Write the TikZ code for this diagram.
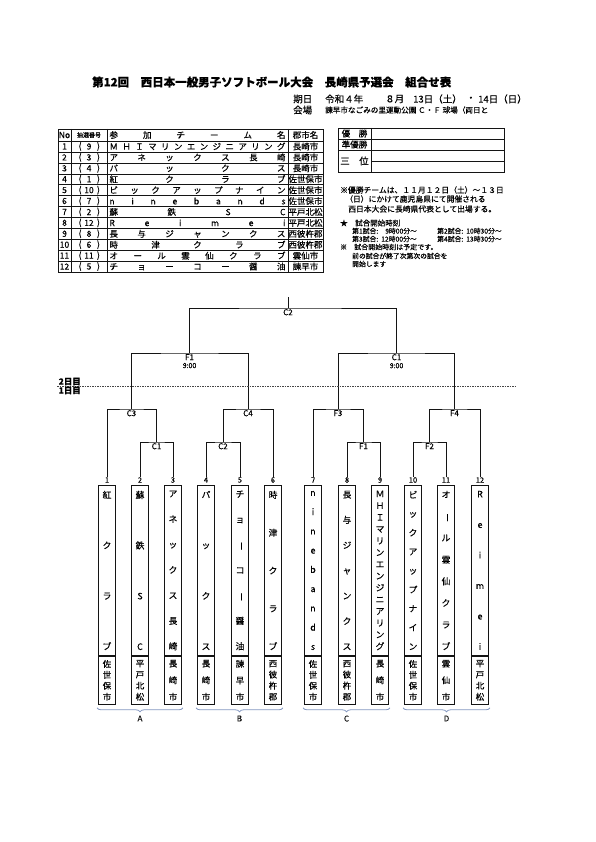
\documentclass[tikz,border=0pt]{standalone}
\usepackage{fontspec}
\setmainfont{Noto Sans CJK JP}[FakeBold=0.35]
\usetikzlibrary{positioning, decorations.pathreplacing}
\definecolor{BrBlack}{RGB}{20,20,20}
\definecolor{DayGrey}{RGB}{70,70,70}
\definecolor{GrpBlue}{RGB}{130,150,192}

% spread the letters of a name over a given width / height
\makeatletter
\def\sp@end{sp@end}
\newcommand\hspreadtext[2]{\edef\sp@list{#2}\hbox to #1{\let\sp@gap\relax\expandafter\sp@hloop\sp@list\sp@end}}
\def\sp@hloop#1{\ifx#1\sp@end\else\sp@gap\let\sp@gap\hfill#1\expandafter\sp@hloop\fi}
\newcommand\vspreadtext[2]{\edef\sp@list{#2}\vbox to #1{\let\sp@gap\relax\expandafter\sp@vloop\sp@list\sp@end}}
\def\sp@vloop#1{\ifx#1\sp@end\else\sp@gap\let\sp@gap\vfill\hbox to 10pt{\hss#1\hss}\expandafter\sp@vloop\fi}
\makeatother
\protected\def\vchoon{\rotatebox[origin=c]{-90}{ー}}

\begin{document}
\begin{tikzpicture}[x=1pt, y=-1pt,
    cell/.style={inner sep=0pt, font=\fontsize{8.5pt}{9pt}\selectfont},
    info/.style={anchor=west, inner sep=0pt, font=\fontsize{9.5pt}{10pt}\selectfont},
    note/.style={anchor=west, inner sep=0pt, font=\fontsize{7.8pt}{9pt}\selectfont},
    small/.style={anchor=west, inner sep=0pt, font=\fontsize{6.8pt}{7pt}\selectfont},
    tline/.style={line width=0.5pt, BrBlack},
    tframe/.style={line width=0.8pt, BrBlack},
    bline/.style={line width=0.8pt, BrBlack},
    mlbl/.style={anchor=north, inner sep=1pt, align=center,
                 font=\fontsize{8pt}{8.5pt}\selectfont},
    num/.style={inner sep=0.5pt, font=\fontsize{7.5pt}{8pt}\selectfont},
    namebox/.style={draw=BrBlack, line width=0.9pt, anchor=north, inner sep=0pt,
                    minimum width=17pt, minimum height=170pt,
                    font=\fontsize{8.8pt}{10pt}\selectfont},
    citybox/.style={draw=BrBlack, line width=0.9pt, inner sep=0pt,
                    minimum width=17pt, minimum height=48pt,
                    font=\fontsize{8.5pt}{9pt}\selectfont},
    dayline/.style={DayGrey, line width=0.8pt, dash pattern=on 1.5pt off 1pt},
    daylbl/.style={inner sep=0.5pt, font=\bfseries\fontsize{8.5pt}{9pt}\selectfont},
    grpbrace/.style={GrpBlue, line width=0.8pt,
                     decorate, decoration={brace, amplitude=4pt, mirror}},
    grplbl/.style={midway, below=4pt, text=BrBlack, font=\fontsize{8pt}{8pt}\selectfont}
  ]
  \useasboundingbox (0,0) rectangle (595,842);

  % heading
  \node[anchor=west, inner sep=0pt, font=\bfseries\fontsize{11.5pt}{13pt}\selectfont]
    (title) at (92,82) {第12回　西日本一般男子ソフトボール大会　長崎県予選会　組合せ表};
  \node[info] (date) at (293,99) {期日};
  \node[info] (year) at (325,99) {令和４年};
  \node[info] (month) at (385,99) {８月};
  \node[info] (day1st) at (413,99) {13日（土）};
  \node[info] (dot) at (466,99) {・};
  \node[info] (day2nd) at (478,99) {14日（日）};
  \node[info] (venue) at (293,110) {会場};
  \node[anchor=west, inner sep=0pt, font=\fontsize{7.6pt}{8pt}\selectfont]
    (place) at (325,110) {諫早市なごみの里運動公園 Ｃ・Ｆ 球場（両日と};

  % entry table
  \draw[tframe] (58,129) rectangle (323,272);
  \foreach \x in {71,107,288}
    \draw[tline] (\x,129) -- (\x,272);
  \draw[tframe] (58,141) -- (323,141);
  \foreach \r in {1,...,11}
    \draw[tline] (58,{141+\r*10.917}) -- (323,{141+\r*10.917});
  \node[cell] (hno) at (64.5,135) {No};
  \node[cell, font=\fontsize{6pt}{6pt}\selectfont] (hdraw) at (89,135) {抽選番号};
  \node[cell] (hname) at (197.5,135) {\hspreadtext{176pt}{参加チーム名}};
  \node[cell] (hcity) at (305.5,135) {郡市名};
  \foreach \no/\dr/\nm/\ct in {1/9/ＭＨＩマリンエンジニアリング/長崎市,
      2/3/アネックス長崎/長崎市, 3/4/パックス/長崎市, 4/1/紅クラブ/佐世保市,
      5/10/ビックアップナイン/佐世保市, 6/7/nine bands/佐世保市,
      7/2/蘇鉄SC/平戸北松, 8/12/Reimei/平戸北松, 9/8/長与ジャンクス/西彼杵郡,
      10/6/時津クラブ/西彼杵郡, 11/11/オール雲仙クラブ/雲仙市, 12/5/チョーコー醤油/諫早市} {
    \pgfmathsetmacro\ry{141+(\no-0.5)*10.917}
    \node[cell] (no\no) at (64.5,\ry) {\no};
    \node[cell] (pl\no) at (80,\ry) {(};
    \node[cell] (dr\no) at (89,\ry) {\dr};
    \node[cell] (pr\no) at (98.5,\ry) {)};
    \node[cell] (nm\no) at (197.5,\ry) {\hspreadtext{176pt}{\nm}};
    \node[cell] (ct\no) at (305.5,\ry) {\ct};
  }

  % result table
  \draw[tframe] (338,128) rectangle (504,172);
  \draw[tline] (371,128) -- (371,172);
  \draw[tline] (338,139) -- (504,139);
  \draw[tline] (338,150) -- (504,150);
  \draw[tline] (371,161) -- (504,161);
  \node[cell] (win) at (354.5,133.5) {優　勝};
  \node[cell] (second) at (354.5,144.5) {準優勝};
  \node[cell, font=\fontsize{9.5pt}{10pt}\selectfont] (third) at (354.5,161) {三　位};

  % notes
  \node[note] (n1a) at (340,190) {※優勝チームは、１１月１２日（土）～１３日};
  \node[note] (n1b) at (345,199) {（日）にかけて鹿児島県にて開催される};
  \node[note] (n1c) at (348,209) {西日本大会に長崎県代表として出場する。};
  \node[small, font=\fontsize{7.5pt}{8pt}\selectfont] (star) at (340,223) {★　試合開始時刻};
  \node[small] (g1) at (352,231) {第1試合:};
  \node[small] (t1) at (385,231) {9時00分～};
  \node[small] (g2) at (437,231) {第2試合:};
  \node[small] (t2) at (466,231) {10時30分～};
  \node[small] (g3) at (352,239) {第3試合:};
  \node[small] (t3) at (381,239) {12時00分～};
  \node[small] (g4) at (437,239) {第4試合:};
  \node[small] (t4) at (466,239) {13時30分～};
  \node[small, font=\fontsize{7pt}{7pt}\selectfont] (plan) at (340,247) {※　試合開始時刻は予定です。};
  \node[small] (plan2) at (352,256) {前の試合が終了次第次の試合を};
  \node[small] (plan3) at (352,264) {開始します};

  % teams in draw order
  \foreach \k/\xx/\vn/\vc in {1/107/紅クラブ/佐世保市, 2/140/蘇鉄SC/平戸北松,
      3/173/アネックス長崎/長崎市, 4/206/パックス/長崎市,
      5/240/チョ\vchoon コ\vchoon 醤油/諫早市, 6/273/時津クラブ/西彼杵郡,
      7/313/ninebands/佐世保市, 8/347/長与ジャンクス/西彼杵郡,
      9/380/ＭＨＩマリンエンジニアリング/長崎市, 10/413/ビックアップナイン/佐世保市,
      11/446/オ\vchoon ル雲仙クラブ/雲仙市, 12/480/Reimei/平戸北松} {
    \node[num] (n\k) at (\xx,480) {\k};
    \node[namebox] (b\k) at (\xx,485) {\vspreadtext{159pt}{\vn}};
    \node[citybox, below=0pt of b\k] (d\k) {\vspreadtext{40pt}{\vc}};
  }

  % matches
  \node[mlbl] (c3) at (131.5,409) {C3};
  \node[mlbl] (c1) at (156.5,442) {C1};
  \node[mlbl] (c4) at (248,409) {C4};
  \node[mlbl] (c2) at (223,442) {C2};
  \node[mlbl] (f3) at (338,409) {F3};
  \node[mlbl] (f1) at (363.5,442) {F1};
  \node[mlbl] (f4) at (454.5,409) {F4};
  \node[mlbl] (f2) at (429.5,442) {F2};
  \node[mlbl] (semil) at (189.5,353) {F1\\[-0.5pt]{\fontsize{7pt}{7pt}\selectfont 9:00}};
  \node[mlbl] (semir) at (396.5,353) {C1\\[-0.5pt]{\fontsize{7pt}{7pt}\selectfont 9:00}};
  \node[mlbl] (final) at (288,308) {C2};
  \coordinate (champ) at (288,297);

  \draw[bline] (n2.north) |- (c1.north) -| (n3.north);
  \draw[bline] (n1.north) |- (c3.north) -| (c1.north);
  \draw[bline] (n4.north) |- (c2.north) -| (n5.north);
  \draw[bline] (c2.north) |- (c4.north) -| (n6.north);
  \draw[bline] (n8.north) |- (f1.north) -| (n9.north);
  \draw[bline] (n7.north) |- (f3.north) -| (f1.north);
  \draw[bline] (n10.north) |- (f2.north) -| (n11.north);
  \draw[bline] (f2.north) |- (f4.north) -| (n12.north);
  \draw[bline] (c3.north) |- (semil.north) -| (c4.north);
  \draw[bline] (f3.north) |- (semir.north) -| (f4.north);
  \draw[bline] (semil.north) |- (final.north) -| (semir.north);
  \draw[bline] (final.north) -- (champ);

  % day split
  \draw[dayline] (57,386) -- (517,386);
  \node[daylbl, anchor=south west] (day2) at (58,386) {2日目};
  \node[daylbl, anchor=north west] (day1) at (58,386) {1日目};

  % groups
  \draw[grpbrace] ([xshift=-1pt,yshift=-3pt]d1.south west) -- ([xshift=1pt,yshift=-3pt]d3.south east) node[grplbl] (ga) {A};
  \draw[grpbrace] ([xshift=-1pt,yshift=-3pt]d4.south west) -- ([xshift=1pt,yshift=-3pt]d6.south east) node[grplbl] (gb) {B};
  \draw[grpbrace] ([xshift=-1pt,yshift=-3pt]d7.south west) -- ([xshift=1pt,yshift=-3pt]d9.south east) node[grplbl] (gc) {C};
  \draw[grpbrace] ([xshift=-1pt,yshift=-3pt]d10.south west) -- ([xshift=1pt,yshift=-3pt]d12.south east) node[grplbl] (gd) {D};
\end{tikzpicture}
\end{document}
